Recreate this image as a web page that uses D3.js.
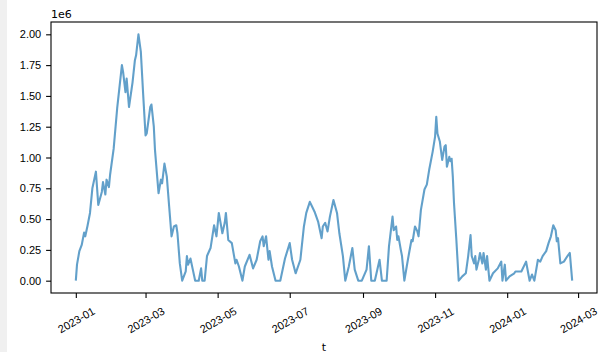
<!DOCTYPE html>
<html>
<head>
<meta charset="utf-8">
<script src="https://cdn.jsdelivr.net/npm/d3@7"></script>
<style>
  body { margin: 0; background: white; }
  svg { display: block; font-family: "DejaVu Sans", sans-serif; }
</style>
</head>
<body>
<script>
// dates (daily-ish samples)
const dates = [
  "2023-01-01","2023-01-02","2023-01-04","2023-01-06","2023-01-08","2023-01-09","2023-01-11","2023-01-13",
  "2023-01-15","2023-01-18","2023-01-20","2023-01-23","2023-01-24","2023-01-26","2023-01-27","2023-01-29",
  "2023-01-30","2023-02-02","2023-02-05","2023-02-09","2023-02-10","2023-02-12","2023-02-13","2023-02-15",
  "2023-02-18","2023-02-20","2023-02-21","2023-02-23","2023-02-25","2023-02-27","2023-03-01","2023-03-02",
  "2023-03-05","2023-03-06","2023-03-08","2023-03-09","2023-03-12","2023-03-14","2023-03-15","2023-03-17",
  "2023-03-19","2023-03-21","2023-03-23","2023-03-25","2023-03-27","2023-03-28","2023-03-30","2023-04-01",
  "2023-04-04","2023-04-05","2023-04-06","2023-04-08","2023-04-10","2023-04-12","2023-04-15","2023-04-17",
  "2023-04-18","2023-04-20","2023-04-22","2023-04-25","2023-04-28","2023-04-30","2023-05-02","2023-05-05",
  "2023-05-07","2023-05-08","2023-05-10","2023-05-13","2023-05-16","2023-05-17","2023-05-19","2023-05-22",
  "2023-05-24","2023-05-28","2023-05-31","2023-06-03","2023-06-06","2023-06-08","2023-06-09","2023-06-11",
  "2023-06-13","2023-06-14","2023-06-16","2023-06-19","2023-06-23","2023-06-27","2023-07-01","2023-07-03",
  "2023-07-06","2023-07-10","2023-07-13","2023-07-15","2023-07-18","2023-07-20","2023-07-22","2023-07-25",
  "2023-07-28","2023-07-29","2023-07-31","2023-08-02","2023-08-04","2023-08-07","2023-08-10","2023-08-12",
  "2023-08-15","2023-08-17","2023-08-20","2023-08-23","2023-08-25","2023-08-28","2023-08-31","2023-09-04",
  "2023-09-06","2023-09-08","2023-09-11","2023-09-15","2023-09-17","2023-09-21","2023-09-23","2023-09-26",
  "2023-09-27","2023-09-29","2023-09-30","2023-10-01","2023-10-03","2023-10-04","2023-10-06","2023-10-08",
  "2023-10-10","2023-10-12","2023-10-13","2023-10-15","2023-10-17","2023-10-18","2023-10-20","2023-10-23",
  "2023-10-25","2023-10-27","2023-10-30","2023-11-01","2023-11-02","2023-11-03","2023-11-05","2023-11-07",
  "2023-11-09","2023-11-10","2023-11-11","2023-11-13","2023-11-14","2023-11-15","2023-11-16","2023-11-17",
  "2023-11-19","2023-11-21","2023-11-24","2023-11-27","2023-11-29","2023-12-01","2023-12-02","2023-12-04",
  "2023-12-05","2023-12-06","2023-12-08","2023-12-09","2023-12-11","2023-12-12","2023-12-14","2023-12-15",
  "2023-12-17","2023-12-20","2023-12-24","2023-12-27","2023-12-28","2023-12-30","2023-12-31","2024-01-03",
  "2024-01-07","2024-01-08","2024-01-13","2024-01-17","2024-01-19","2024-01-20","2024-01-22","2024-01-24",
  "2024-01-27","2024-01-29","2024-01-31","2024-02-03","2024-02-05","2024-02-07","2024-02-09","2024-02-11",
  "2024-02-12","2024-02-13","2024-02-15","2024-02-18","2024-02-21","2024-02-23","2024-02-25"
];

// values in units of 1e6
const values = [
  0.00,0.13,0.24,0.29,0.39,0.36,0.45,0.55,
  0.75,0.885,0.615,0.72,0.80,0.70,0.82,0.76,
  0.86,1.07,1.40,1.75,1.695,1.53,1.64,1.41,
  1.61,1.79,1.83,2.00,1.86,1.51,1.18,1.195,
  1.41,1.43,1.25,1.06,0.71,0.82,0.79,0.95,
  0.845,0.60,0.36,0.44,0.45,0.385,0.14,0.00,
  0.075,0.20,0.13,0.18,0.09,0.00,0.00,0.10,
  0.00,0.00,0.20,0.265,0.45,0.36,0.55,0.385,
  0.47,0.55,0.33,0.305,0.14,0.17,0.115,0.00,
  0.115,0.21,0.10,0.17,0.32,0.36,0.28,0.36,
  0.17,0.24,0.115,0.00,0.00,0.18,0.305,0.17,
  0.06,0.17,0.44,0.55,0.64,0.60,0.56,0.48,
  0.345,0.44,0.47,0.40,0.52,0.655,0.55,0.385,
  0.20,0.00,0.115,0.265,0.09,0.00,0.00,0.09,
  0.28,0.00,0.00,0.17,0.00,0.00,0.28,0.52,
  0.41,0.44,0.33,0.36,0.25,0.20,0.00,0.115,
  0.225,0.33,0.32,0.44,0.40,0.36,0.575,0.74,
  0.78,0.90,1.05,1.17,1.33,1.195,1.13,0.98,
  1.09,1.10,0.925,1.005,0.97,0.99,0.845,0.63,
  0.33,0.00,0.035,0.06,0.20,0.37,0.20,0.14,
  0.20,0.09,0.17,0.225,0.14,0.225,0.09,0.20,
  0.00,0.06,0.10,0.155,0.00,0.13,0.00,0.035,
  0.06,0.075,0.075,0.155,0.05,0.00,0.05,0.00,
  0.17,0.155,0.20,0.24,0.305,0.36,0.45,0.41,
  0.32,0.345,0.14,0.155,0.20,0.225,0.00
];

const yTicks = [0, 0.25, 0.5, 0.75, 1.0, 1.25, 1.5, 1.75, 2.0];

const data = dates.map((d, i) => ({ t: d3.utcParse("%Y-%m-%d")(d), v: values[i] }));

let width = 609;
let height = 352;
let marginLeft = 51;
let marginRight = 12;
let marginTop = 22;
let marginBottom = 59;

// matplotlib style 5% padding on both axes
const tExt = d3.extent(data, d => d.t);
const tPad = (tExt[1] - tExt[0]) * 0.05;
const x = d3.scaleUtc()
    .domain([new Date(+tExt[0] - tPad), new Date(+tExt[1] + tPad)])
    .range([marginLeft, width - marginRight]);

const vExt = d3.extent(data, d => d.v);
const vPad = (vExt[1] - vExt[0]) * 0.05;
const y = d3.scaleLinear()
    .domain([vExt[0] - vPad, vExt[1] + vPad])
    .range([height - marginBottom, marginTop]);

const svg = d3.select("body").append("svg")
    .attr("width", width)
    .attr("height", height)
    .attr("viewBox", [0, 0, width, height]);

// light strip along the left edge of the screenshot
svg.append("rect")
    .attr("x", 0).attr("y", 0)
    .attr("width", 7).attr("height", height)
    .attr("fill", "#f0f0f0");

// the line
svg.append("path")
    .datum(data)
    .attr("fill", "none")
    .attr("stroke", "#1f77b4")
    .attr("stroke-opacity", 0.7)
    .attr("stroke-width", 2.1)
    .attr("stroke-linejoin", "round")
    .attr("d", d3.line().x(d => x(d.t)).y(d => y(d.v)));

// x-axis with rotated labels
const xAxis = svg.append("g")
    .attr("transform", `translate(0,${height - marginBottom})`)
    .call(d3.axisBottom(x)
        .ticks(d3.utcMonth.every(2))
        .tickFormat(d3.utcFormat("%Y-%m"))
        .tickSize(4.9)
        .tickSizeOuter(0));
xAxis.select(".domain").remove();
xAxis.selectAll(".tick line").attr("stroke", "#000").attr("stroke-width", 1.1);
xAxis.selectAll(".tick text")
    .attr("font-size", 11)
    .attr("fill", "#000")
    .attr("text-anchor", "middle")
    .attr("dominant-baseline", "central")
    .attr("y", null).attr("dy", null)
    .attr("transform", "translate(0,27) rotate(-30)");

// y-axis
const yAxis = svg.append("g")
    .attr("transform", `translate(${marginLeft},0)`)
    .call(d3.axisLeft(y)
        .tickValues(yTicks)
        .tickFormat(d3.format(".2f"))
        .tickSize(4.9)
        .tickPadding(4.9));
yAxis.select(".domain").remove();
yAxis.selectAll(".tick line").attr("stroke", "#000").attr("stroke-width", 1.1);
yAxis.selectAll(".tick text").attr("font-size", 11).attr("fill", "#000");

// frame
svg.append("rect")
    .attr("x", marginLeft)
    .attr("y", marginTop)
    .attr("width", width - marginLeft - marginRight)
    .attr("height", height - marginTop - marginBottom)
    .attr("fill", "none")
    .attr("stroke", "#000")
    .attr("stroke-width", 1.1);

// offset text and x label
svg.append("text")
    .attr("x", marginLeft)
    .attr("y", marginTop - 4)
    .attr("font-size", 11)
    .text("1e6");

svg.append("text")
    .attr("x", (marginLeft + width - marginRight) / 2)
    .attr("y", height - 1)
    .attr("text-anchor", "middle")
    .attr("font-size", 11)
    .text("t");
</script>
</body>
</html>
